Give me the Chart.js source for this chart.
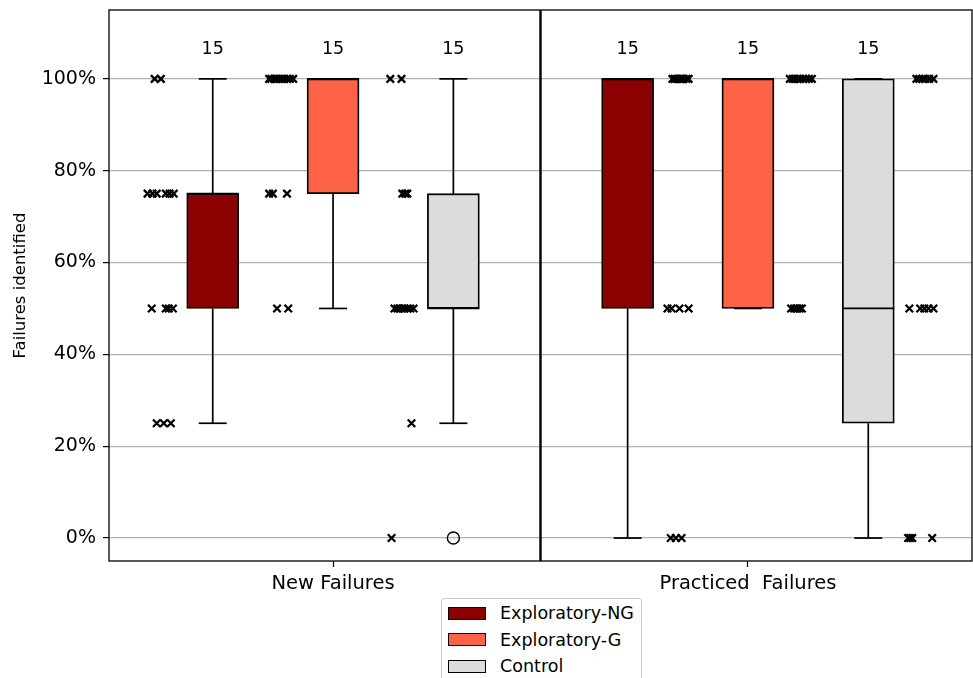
<!DOCTYPE html>
<html><head><meta charset="utf-8">
<script src="https://cdn.jsdelivr.net/npm/chart.js@4"></script>
<style>
html,body{margin:0;padding:0;background:#fff;}
#wrap{position:relative;width:973px;height:678px;overflow:hidden;}
#legend{position:absolute;left:441px;top:598px;width:201px;height:100px;border:1px solid #cccccc;border-radius:3px;background:#fff;font-family:'DejaVu Sans';font-size:17.5px;color:#000;box-sizing:border-box;}
.item{position:absolute;left:6px;height:20px;display:flex;align-items:center;white-space:nowrap;}
.sw{width:36px;height:11px;border:1px solid #000;margin-right:14px;flex:none;}
</style></head>
<body><div id="wrap"><canvas id="c" width="973" height="678"></canvas><div id="legend"></div></div>
<script>
// ---------------- data ----------------
const categories = ['New Failures', 'Practiced  Failures'];
const seriesNames = ['Exploratory-NG', 'Exploratory-G', 'Control'];
const seriesColors = ['#8b0000', '#ff6347', '#dcdcdc'];
const yTicks = [0, 0.2, 0.4, 0.6, 0.8, 1.0];

// share of failures identified per participant (15 participants per group)
const newNG   = [1, 1, 0.75, 0.75, 0.75, 0.75, 0.75, 0.75, 0.5, 0.5, 0.5, 0.5, 0.25, 0.25, 0.25];
const newG    = [1, 1, 1, 1, 1, 1, 1, 1, 1, 1, 0.75, 0.75, 0.75, 0.5, 0.5];
const newCtrl = [1, 1, 0.75, 0.75, 0.75, 0.5, 0.5, 0.5, 0.5, 0.5, 0.5, 0.5, 0.5, 0.25, 0];
const pracNG  = [1, 1, 1, 1, 1, 1, 1, 1, 0.5, 0.5, 0.5, 0.5, 0, 0, 0];
const pracG   = [1, 1, 1, 1, 1, 1, 1, 1, 1, 0.5, 0.5, 0.5, 0.5, 0.5, 0.5];
const pracCtrl= [1, 1, 1, 1, 1, 1, 0.5, 0.5, 0.5, 0.5, 0.5, 0, 0, 0, 0];

// horizontal jitter of each participant's marker (axis units, relative to its box)
const newNGJitter   = [-0.140, -0.125, -0.157, -0.145, -0.135, -0.113, -0.104, -0.094, -0.147, -0.113, -0.106, -0.096, -0.135, -0.118, -0.101];
const newGJitter    = [-0.154, -0.149, -0.142, -0.137, -0.130, -0.123, -0.118, -0.111, -0.104, -0.096, -0.154, -0.145, -0.111, -0.135, -0.108];
const newCtrlJitter = [-0.152, -0.125, -0.123, -0.116, -0.111, -0.142, -0.135, -0.130, -0.123, -0.118, -0.111, -0.104, -0.096, -0.101, -0.149];
const pracNGJitter  = [0.108, 0.113, 0.118, 0.125, 0.130, 0.135, 0.142, 0.147, 0.096, 0.106, 0.125, 0.147, 0.104, 0.116, 0.130];
const pracGJitter   = [0.101, 0.108, 0.113, 0.120, 0.125, 0.133, 0.140, 0.147, 0.154, 0.104, 0.111, 0.116, 0.120, 0.125, 0.130];
const pracCtrlJitter= [0.116, 0.123, 0.130, 0.137, 0.147, 0.157, 0.099, 0.125, 0.135, 0.145, 0.157, 0.096, 0.101, 0.106, 0.154];

// ---------------- layout / style constants ----------------
const groups = [
  [[newNG, newNGJitter], [newG, newGJitter], [newCtrl, newCtrlJitter]],
  [[pracNG, pracNGJitter], [pracG, pracGJitter], [pracCtrl, pracCtrlJitter]]
];
const seriesOffset = [-0.29, 0, 0.29];
const FONT = 'DejaVu Sans';

function quantile(s, p) {
  const pos = (s.length - 1) * p, lo = Math.floor(pos), hi = Math.min(lo + 1, s.length - 1);
  return s[lo] + (s[hi] - s[lo]) * (pos - lo);
}
function boxStats(vals) {
  const s = [...vals].sort((a, b) => a - b);
  const q1 = quantile(s, 0.25), med = quantile(s, 0.5), q3 = quantile(s, 0.75);
  const iqr = q3 - q1, lf = q1 - 1.5 * iqr - 1e-9, hf = q3 + 1.5 * iqr + 1e-9;
  const inside = s.filter(v => v >= lf && v <= hf);
  return { q1, med, q3, lo: Math.min(...inside), hi: Math.max(...inside), out: s.filter(v => v < lf || v > hf), n: s.length };
}

const datasets = [];
seriesNames.forEach((name, si) => {
  const boxes = [], whisk = [], caps = [], meds = [], outs = [], pts = [];
  categories.forEach((c, ci) => {
    const [vals, jit] = groups[ci][si];
    const st = boxStats(vals);
    const x = ci + seriesOffset[si];
    boxes.push({ x, y: [st.q1, st.q3] });
    whisk.push({ x, y: st.q3 }, { x, y: st.hi }, { x, y: null }, { x, y: st.q1 }, { x, y: st.lo }, { x, y: null });
    caps.push({ x, y: st.lo }, { x, y: st.hi });
    meds.push({ x, y: st.med });
    st.out.forEach(v => outs.push({ x, y: v }));
    vals.forEach((v, k) => pts.push({ x: x + jit[k], y: v }));
  });
  datasets.push({ type: 'bar', label: name, data: boxes, backgroundColor: seriesColors[si], borderColor: '#000', borderWidth: 1.8, borderSkipped: false, barThickness: 52, grouped: false, order: 6 });
  datasets.push({ type: 'line', label: '_w', data: whisk, borderColor: '#000', borderWidth: 1.7, pointRadius: 0, fill: false, spanGaps: false, order: 5 });
  datasets.push({ type: 'scatter', label: '_c', data: caps, pointStyle: 'line', pointRadius: 14, borderColor: '#000', borderWidth: 1.7, order: 4 });
  datasets.push({ type: 'scatter', label: '_m', data: meds, pointStyle: 'line', pointRadius: 26, borderColor: '#000', borderWidth: 1.7, order: 3 });
  datasets.push({ type: 'scatter', label: '_o', data: outs, pointStyle: 'circle', pointRadius: 6, backgroundColor: 'rgba(0,0,0,0)', borderColor: '#000', borderWidth: 1.4, order: 2 });
  datasets.push({ type: 'scatter', label: '_p', data: pts, pointStyle: 'crossRot', pointRadius: 5.3, borderColor: '#000', borderWidth: 2.3, order: 1 });
});

const framePlugin = {
  id: 'frame',
  afterDatasetsDraw(chart) {
    const { ctx, chartArea: a, scales: { x, y } } = chart;
    ctx.save();
    ctx.strokeStyle = '#000';
    ctx.lineWidth = 1.3;
    ctx.strokeRect(a.left, a.top, a.right - a.left, a.bottom - a.top);
    const xm = x.getPixelForValue((categories.length - 1) / 2);
    ctx.lineWidth = 2.4;
    ctx.beginPath(); ctx.moveTo(xm, a.top); ctx.lineTo(xm, a.bottom); ctx.stroke();
    // sample-size labels above each box
    ctx.fillStyle = '#000';
    ctx.font = '17.5px "' + FONT + '"';
    ctx.textAlign = 'center';
    ctx.textBaseline = 'middle';
    categories.forEach((c, ci) => seriesNames.forEach((s, si) => {
      const n = groups[ci][si][0].length;
      ctx.fillText(String(n), x.getPixelForValue(ci + seriesOffset[si]), y.getPixelForValue(1.065));
    }));
    ctx.restore();
  }
};

function noPad(s) { s.paddingTop = 0; s.paddingBottom = 0; s.paddingLeft = 0; s.paddingRight = 0; }

Chart.defaults.font.family = FONT;
Chart.defaults.color = '#000';

new Chart(document.getElementById('c'), {
  type: 'scatter',
  data: { datasets },
  options: {
    responsive: false,
    animation: false,
    events: [],
    layout: { autoPadding: false, padding: { top: 10, right: 1, left: 0, bottom: 0 } },
    plugins: { legend: { display: false }, tooltip: { enabled: false } },
    scales: {
      x: {
        type: 'linear', min: -0.54, max: 1.54, offset: false,
        grid: { display: true, drawOnChartArea: false, drawTicks: true, tickLength: 6, tickColor: '#000', tickWidth: 1.2, offset: false },
        border: { display: false },
        afterBuildTicks: s => { s.ticks = categories.map((c, i) => ({ value: i })); },
        ticks: { callback: v => categories[v], font: { size: 19.5 }, padding: 5, maxRotation: 0, autoSkip: false },
        afterFit: s => { s.height = 117; noPad(s); }
      },
      y: {
        type: 'linear', min: -0.05, max: 1.15,
        grid: { color: '#b0b0b0', lineWidth: 1.2, tickLength: 6, tickColor: '#000', tickWidth: 1.2 },
        border: { display: false },
        afterBuildTicks: s => { s.ticks = yTicks.map(v => ({ value: v })); },
        ticks: { callback: v => Math.round(v * 100) + '%', font: { size: 19 }, padding: 7 },
        title: { display: true, text: 'Failures identified', font: { size: 16.5 }, padding: { top: 11, bottom: 0 } },
        afterFit: s => { s.width = 109; noPad(s); }
      }
    }
  },
  plugins: [framePlugin]
});

// HTML legend built from the series arrays
const leg = document.getElementById('legend');
seriesNames.forEach((name, i) => {
  const d = document.createElement('div');
  d.className = 'item';
  d.style.top = (4 + i * 26.5) + 'px';
  d.innerHTML = '<span class="sw" style="background:' + seriesColors[i] + '"></span><span>' + name + '</span>';
  leg.appendChild(d);
});
</script>
</body></html>
